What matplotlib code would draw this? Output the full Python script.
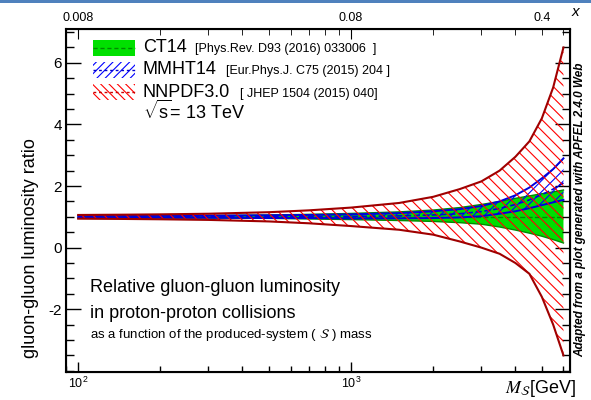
import numpy as np
import matplotlib
matplotlib.use('Agg')
import matplotlib.pyplot as plt
from matplotlib.patches import Rectangle
from matplotlib.lines import Line2D
from matplotlib.ticker import FixedLocator, NullFormatter, FuncFormatter, MultipleLocator

plt.rcParams['font.family'] = ['Liberation Sans', 'DejaVu Sans']
plt.rcParams['mathtext.fontset'] = 'custom'
plt.rcParams['mathtext.rm'] = 'Liberation Sans'
plt.rcParams['mathtext.it'] = 'Liberation Sans:italic'
plt.rcParams['mathtext.bf'] = 'Liberation Sans:bold'
plt.rcParams['axes.unicode_minus'] = False
plt.rcParams['hatch.linewidth'] = 0.8

# invariant mass of the produced system [GeV]
mass = [100, 150, 200, 300, 500, 700, 1000, 1500, 2000, 2500, 3000, 3500, 4000, 4500, 5000, 5500, 6000]

# CT14 band (ratio)
ct14_hi = [1.03, 1.03, 1.035, 1.04, 1.06, 1.08, 1.11, 1.16, 1.22, 1.30, 1.40, 1.50, 1.60, 1.68, 1.75, 1.81, 1.87]
ct14_lo = [0.97, 0.97, 0.965, 0.96, 0.95, 0.93, 0.91, 0.88, 0.85, 0.81, 0.76, 0.67, 0.57, 0.47, 0.37, 0.26, 0.15]
ct14_c = [1.0] * 17

# MMHT14 band
mmht_hi = [1.03, 1.03, 1.03, 1.04, 1.05, 1.06, 1.08, 1.12, 1.18, 1.25, 1.35, 1.50, 1.70, 1.95, 2.25, 2.55, 2.90]
mmht_lo = [0.97, 0.97, 0.97, 0.97, 0.96, 0.96, 0.95, 0.95, 0.96, 0.98, 1.02, 1.10, 1.18, 1.28, 1.38, 1.47, 1.55]
mmht_c = [1.0, 1.0, 1.0, 1.0, 1.0, 1.0, 1.01, 1.03, 1.06, 1.10, 1.17, 1.27, 1.40, 1.55, 1.72, 1.90, 2.10]

# NNPDF3.0 band
nnpdf_hi = [1.06, 1.07, 1.08, 1.10, 1.15, 1.21, 1.30, 1.45, 1.65, 1.90, 2.15, 2.50, 2.95, 3.45, 4.20, 5.20, 6.50]
nnpdf_lo = [0.94, 0.93, 0.92, 0.90, 0.85, 0.79, 0.70, 0.58, 0.42, 0.20, 0.00, -0.20, -0.50, -0.85, -1.60, -2.50, -3.50]

# figure layout helpers (pixel -> figure fraction)
W, H = 591, 400
def fx(px):
    return px / W
def fy(py):
    return 1 - py / H

fig = plt.figure(figsize=(W / 100, H / 100), dpi=100)
ax = fig.add_axes([fx(65.7), fy(371.7), fx(570) - fx(65.7), fy(29.3) - fy(371.7)])

# bands
ax.fill_between(mass, ct14_lo, ct14_hi, facecolor='#00dd00', edgecolor='none', zorder=1)
ax.plot(mass, ct14_hi, color='#008a00', lw=1.0, zorder=1.5)
ax.plot(mass, ct14_lo, color='#008a00', lw=1.0, zorder=1.5)
ax.plot(mass, ct14_c, color='#008a00', lw=1.0, ls='--', zorder=1.5)

ax.fill_between(mass, mmht_lo, mmht_hi, facecolor='none', edgecolor='#0000ff', hatch='///', lw=0, zorder=2)
ax.plot(mass, mmht_hi, color='#0000dd', lw=1.4, zorder=2.5)
ax.plot(mass, mmht_lo, color='#0000dd', lw=1.4, zorder=2.5)
ax.plot(mass, mmht_c, color='#0000dd', lw=1.2, ls='--', zorder=2.5)

ax.fill_between(mass, nnpdf_lo, nnpdf_hi, facecolor='none', edgecolor='#ff0000', hatch='\\\\\\', lw=0, zorder=3)
ax.plot(mass, nnpdf_hi, color='#a00000', lw=1.5, zorder=3.5)
ax.plot(mass, nnpdf_lo, color='#a00000', lw=1.5, zorder=3.5)

# axes
ax.set_xscale('log')
ax.set_xlim(90, 6340)
ax.set_ylim(-4.03, 7.09)
ax.yaxis.set_major_locator(FixedLocator([-2, 0, 2, 4, 6]))
ax.yaxis.set_minor_locator(MultipleLocator(0.5))
ax.xaxis.set_minor_formatter(NullFormatter())
for sp in ax.spines.values():
    sp.set_linewidth(1.5)
ax.tick_params(which='both', direction='in', right=True, top=False)
ax.tick_params(axis='y', which='major', length=10.5, width=1, labelsize=11, pad=2.5)
ax.tick_params(axis='y', which='minor', length=5.5, width=1)
ax.tick_params(axis='x', which='major', length=7, width=1, labelsize=9, pad=3)
ax.tick_params(axis='x', which='minor', length=4, width=1)

# top axis: momentum fraction x
ax2 = ax.twiny()
ax2.set_xscale('log')
ax2.set_xlim(ax.get_xlim())
ax2.xaxis.set_major_locator(FixedLocator([100, 1000]))
ax2.xaxis.set_major_formatter(FuncFormatter(lambda v, p: {100: '0.008', 1000: '0.08'}.get(int(round(v)), '')))
ax2.xaxis.set_minor_formatter(FuncFormatter(lambda v, p: '0.4' if abs(v - 5000) < 1 else ''))
ax2.tick_params(which='both', direction='in', labelsize=9, pad=4)
ax2.tick_params(which='major', length=7)
ax2.tick_params(which='minor', length=4)

# legend drawn by hand
def legend_box(y0, y1, face, hatch, ecolor, lcolor, ls):
    r = Rectangle((fx(93), fy(y1)), fx(135) - fx(93), fy(y0) - fy(y1), transform=fig.transFigure,
                  facecolor=face, edgecolor=ecolor, hatch=hatch, lw=0)
    fig.patches.append(r)
    ym = fy((y0 + y1) / 2)
    fig.lines.append(Line2D([fx(93), fx(135)], [ym, ym], transform=fig.transFigure,
                            color=lcolor, ls=ls, lw=1.0))

legend_box(40, 56, '#00e000', None, 'none', '#008a00', (0, (3, 2)))
legend_box(62, 78, 'none', '////', '#0000ff', '#0000cc', (0, (2, 2)))
legend_box(84, 100, 'none', '\\\\\\\\', '#ff0000', '#cc0000', (0, (2, 2)))

fig.text(fx(143), fy(52), 'CT14', fontsize=13, va='baseline')
fig.text(fx(195), fy(52), '[Phys.Rev. D93 (2016) 033006  ]', fontsize=9, va='baseline')
fig.text(fx(143), fy(74), 'MMHT14', fontsize=13, va='baseline')
fig.text(fx(226), fy(74), '[Eur.Phys.J. C75 (2015) 204 ]', fontsize=9, va='baseline')
fig.text(fx(143), fy(96.7), 'NNPDF3.0', fontsize=13, va='baseline')
fig.text(fx(240), fy(96.7), '[ JHEP 1504 (2015) 040]', fontsize=9, va='baseline')
fig.text(fx(143), fy(118.5), r'$\sqrt{\mathrm{s}}$= 13 TeV', fontsize=13, va='baseline')

# description
fig.text(fx(90), fy(291.7), 'Relative gluon-gluon luminosity', fontsize=13, va='baseline')
fig.text(fx(90), fy(318), 'in proton-proton collisions', fontsize=13, va='baseline')
fig.text(fx(90), fy(338), r'as a function of the produced-system ( $\mathcal{S}$ ) mass', fontsize=9.5,
         va='baseline', math_fontfamily='stix')

# axis titles
fig.text(fx(31), fy(248), 'gluon-gluon luminosity ratio', fontsize=13, rotation=90, ha='center', va='center')
fig.text(fx(576), fy(393), r'$M_{\mathcal{S}}$[GeV]', fontsize=13, ha='right', va='baseline',
         math_fontfamily='stix')
fig.text(fx(575), fy(12), 'x', fontsize=11, style='italic', ha='center', va='center')
fig.text(fx(580), fy(210), 'Adapted from a plot generated with APFEL 2.4.0 Web', fontsize=8.5,
         weight='bold', style='italic', rotation=90, ha='center', va='center')

# thin banner line along the top edge
fig.patches.append(Rectangle((0, fy(3)), 1, fy(0) - fy(3), transform=fig.transFigure,
                             facecolor='#4f81bd', edgecolor='none'))

fig.savefig('out.png', dpi=100)
